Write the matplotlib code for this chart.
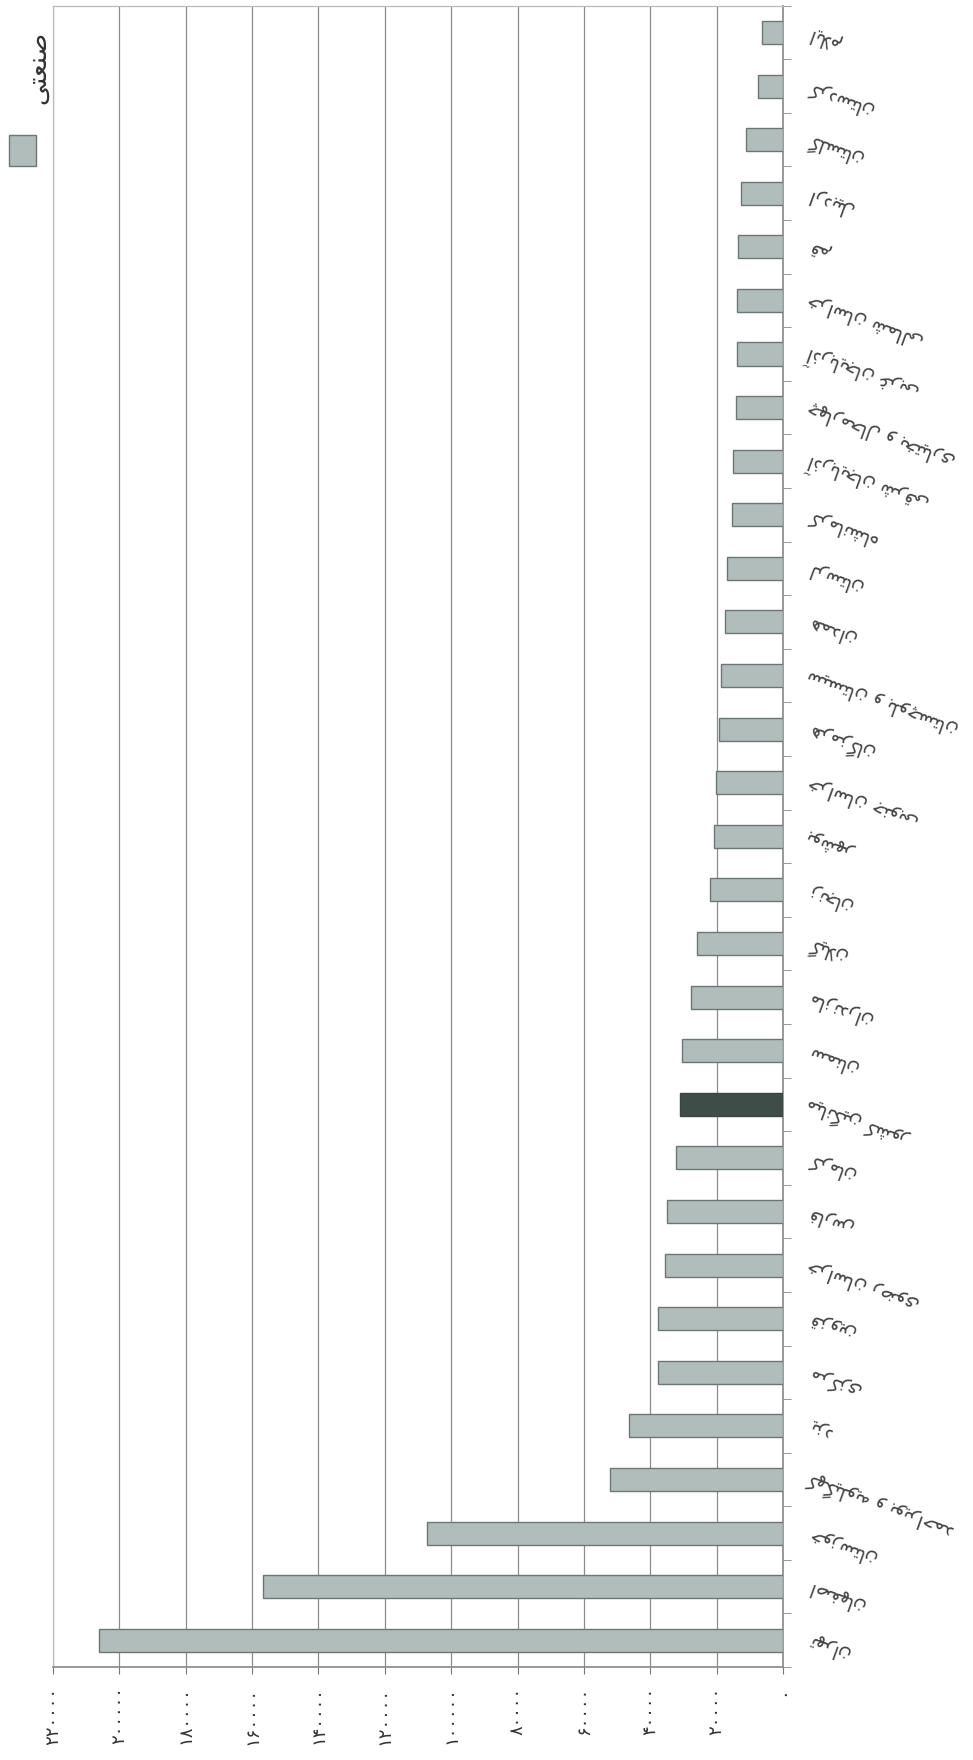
import matplotlib
matplotlib.use('Agg')
import matplotlib.pyplot as plt
from matplotlib.patches import Rectangle
import numpy as np

# provinces, top of the chart first
provinces = ['ایلام', 'کردستان', 'گلستان', 'اردبیل', 'قم',
             'خراسان شمالی', 'آذربایجان غربی', 'چهارمحال و بختیاری', 'آذربایجان شرقی', 'کرمانشاه',
             'لرستان', 'همدان', 'سیستان و بلوچستان', 'هرمزگان', 'خراسان جنوبی',
             'بوشهر', 'زنجان', 'گیلان', 'مازندران', 'سمنان',
             'میانگین کشور', 'کرمان', 'فارس', 'خراسان رضوی', 'قزوین',
             'مرکزی', 'یزد', 'کهگیلویه و بویراحمد', 'خوزستان', 'اصفهان', 'تهران']
values = [6400, 7400, 11100, 12500, 13500,
          13900, 13900, 14200, 15200, 15500,
          16900, 17600, 18600, 19300, 20300,
          20900, 22000, 26000, 27700, 30400,
          31100, 32100, 35100, 35500, 37800,
          37800, 46300, 52000, 107400, 156800, 206100]
highlight = 'میانگین کشور'
series_name = 'صنعتی'
ticks = list(range(0, 220001, 20000))

# --- tiny arabic/persian shaper (matplotlib does no shaping) ---
FORMS = {  # iso, fin, ini, med
    'ا': (0xFE8D, 0xFE8E, None, None), 'آ': (0xFE81, 0xFE82, None, None),
    'ب': (0xFE8F, 0xFE90, 0xFE91, 0xFE92), 'پ': (0xFB56, 0xFB57, 0xFB58, 0xFB59),
    'ت': (0xFE95, 0xFE96, 0xFE97, 0xFE98), 'ج': (0xFE9D, 0xFE9E, 0xFE9F, 0xFEA0),
    'چ': (0xFB7A, 0xFB7B, 0xFB7C, 0xFB7D), 'ح': (0xFEA1, 0xFEA2, 0xFEA3, 0xFEA4),
    'خ': (0xFEA5, 0xFEA6, 0xFEA7, 0xFEA8), 'د': (0xFEA9, 0xFEAA, None, None),
    'ذ': (0xFEAB, 0xFEAC, None, None), 'ر': (0xFEAD, 0xFEAE, None, None),
    'ز': (0xFEAF, 0xFEB0, None, None), 'ژ': (0xFB8A, 0xFB8B, None, None),
    'س': (0xFEB1, 0xFEB2, 0xFEB3, 0xFEB4), 'ش': (0xFEB5, 0xFEB6, 0xFEB7, 0xFEB8),
    'ص': (0xFEB9, 0xFEBA, 0xFEBB, 0xFEBC), 'ض': (0xFEBD, 0xFEBE, 0xFEBF, 0xFEC0),
    'ط': (0xFEC1, 0xFEC2, 0xFEC3, 0xFEC4), 'ع': (0xFEC9, 0xFECA, 0xFECB, 0xFECC),
    'غ': (0xFECD, 0xFECE, 0xFECF, 0xFED0), 'ف': (0xFED1, 0xFED2, 0xFED3, 0xFED4),
    'ق': (0xFED5, 0xFED6, 0xFED7, 0xFED8), 'ک': (0xFB8E, 0xFB8F, 0xFB90, 0xFB91),
    'گ': (0xFB92, 0xFB93, 0xFB94, 0xFB95), 'ل': (0xFEDD, 0xFEDE, 0xFEDF, 0xFEE0),
    'م': (0xFEE1, 0xFEE2, 0xFEE3, 0xFEE4), 'ن': (0xFEE5, 0xFEE6, 0xFEE7, 0xFEE8),
    'و': (0xFEED, 0xFEEE, None, None), 'ه': (0xFEE9, 0xFEEA, 0xFEEB, 0xFEEC),
    'ی': (0xFBFC, 0xFBFD, 0xFBFE, 0xFBFF),
}


def shape(text):
    chars = list(text)
    # lam-alef ligature
    merged = []
    i = 0
    while i < len(chars):
        if chars[i] == 'ل' and i + 1 < len(chars) and chars[i + 1] in 'اآ':
            merged.append('LA')
            i += 2
        else:
            merged.append(chars[i])
            i += 1
    out = []
    for i, c in enumerate(merged):
        prev = merged[i - 1] if i > 0 else None
        nxt = merged[i + 1] if i + 1 < len(merged) else None
        joins_prev = prev in FORMS and FORMS[prev][2] is not None
        if c == 'LA':
            out.append(chr(0xFEFC if joins_prev else 0xFEFB))
            continue
        if c not in FORMS:
            out.append(c)
            continue
        iso, fin, ini, med = FORMS[c]
        joins_next = ini is not None and (nxt in FORMS or nxt == 'LA')
        if joins_prev and joins_next:
            out.append(chr(med))
        elif joins_prev:
            out.append(chr(fin))
        elif joins_next:
            out.append(chr(ini))
        else:
            out.append(chr(iso))
    return ''.join(reversed(out))


def fa_digits(n):
    return str(n).translate(str.maketrans('0123456789', '۰۱۲۳۴۵۶۷۸۹'))


plt.rcParams['font.family'] = ['DejaVu Sans']

fig = plt.figure(figsize=(9.73, 17.60), dpi=100)
ax = fig.add_axes([0.0545, 0.0528, 0.7502, 0.944])

y = np.arange(len(provinces))
colors = ['#3f4d48' if p == highlight else '#b1bdbb' for p in provinces]
edges = ['#3a4541' if p == highlight else '#6e7674' for p in provinces]
ax.barh(y, values, height=0.43, color=colors, edgecolor=edges, linewidth=1.0, zorder=3)

ax.set_xlim(0, 220000)
ax.invert_xaxis()
ax.set_ylim(len(provinces) - 0.5, -0.5)

ax.set_xticks(ticks)
ax.set_xticklabels([fa_digits(t) for t in ticks], rotation=90, fontsize=13, color='#333333')
ax.tick_params(axis='x', direction='out', length=5, color='#777777', pad=9)
ax.grid(axis='x', color='#8c8c8c', linewidth=0.9, zorder=0)

ax.yaxis.tick_right()
ax.set_yticks(y)
ax.set_yticklabels([shape(p) for p in provinces], fontsize=13.5, color='#444444')
ax.set_yticks(np.arange(-0.5, len(provinces)), minor=True)
ax.tick_params(axis='y', which='major', length=0, pad=18)
ax.tick_params(axis='y', which='minor', direction='out', length=6, color='#888888')
for lbl in ax.get_yticklabels():
    lbl.set_rotation(160)
    lbl.set_rotation_mode('anchor')
    lbl.set_ha('right')
    lbl.set_va('center')

for side in ['top', 'left']:
    ax.spines[side].set_color('#bbbbbb')
    ax.spines[side].set_linewidth(0.9)
ax.spines['right'].set_color('#888888')
ax.spines['right'].set_linewidth(1.2)
ax.spines['bottom'].set_color('#888888')
ax.spines['bottom'].set_linewidth(1.2)

# legend, drawn sideways like the scanned page
fig.patches.append(Rectangle((0.0095, 0.9057), 0.0275, 0.0176, transform=fig.transFigure,
                             facecolor='#b1bdbb', edgecolor='#6e7674', linewidth=1.0))
fig.text(0.0395, 0.962, shape(series_name), rotation=90, ha='center', va='center',
         fontsize=19, color='#333333')

fig.savefig('out.png', dpi=100)
